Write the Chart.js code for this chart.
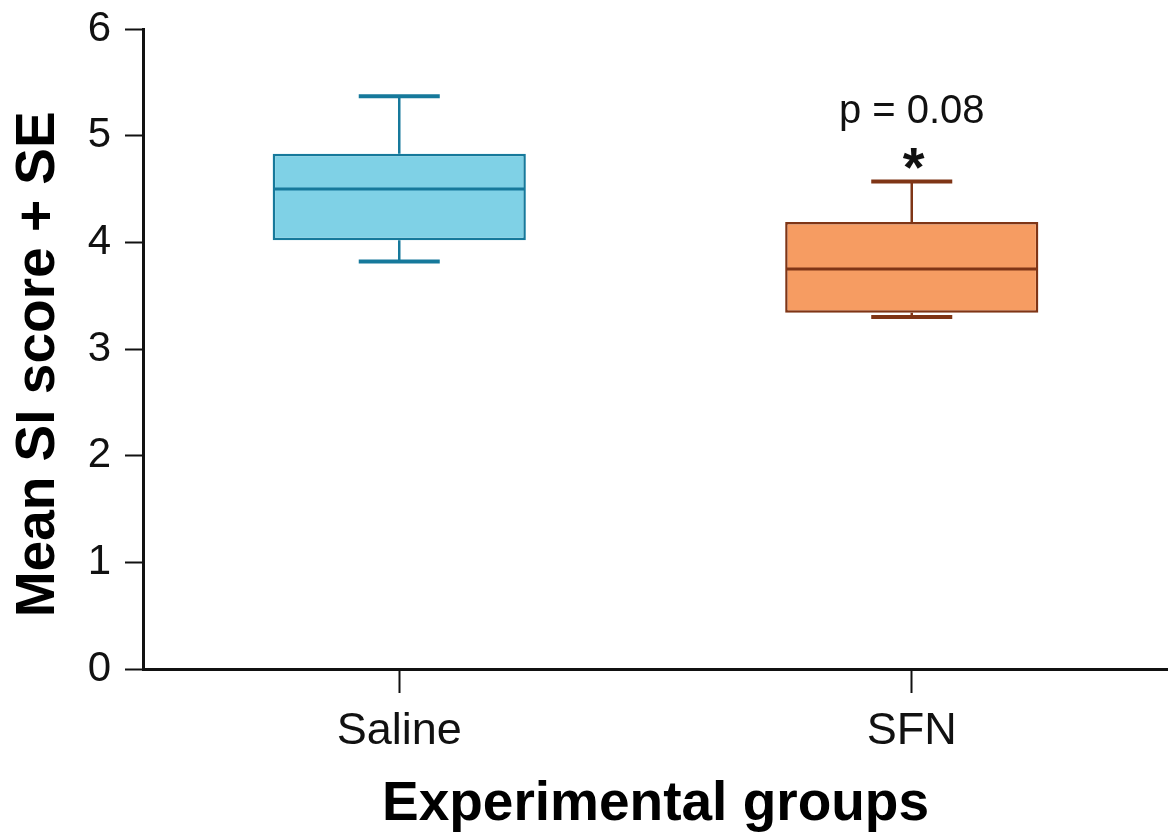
<!DOCTYPE html>
<html>
<head>
<meta charset="utf-8">
<script src="https://cdn.jsdelivr.net/npm/chart.js@4.4.1/dist/chart.umd.min.js"></script>
<style>
  html, body { margin: 0; padding: 0; background: #fff; }
  #wrap { width: 1168px; height: 840px; }
</style>
</head>
<body>
<div id="wrap"><canvas id="box-chart"></canvas></div>
<script>
(function() {
    'use strict';

    // Groups and box statistics
    var groups = ['Saline', 'SFN'];
    var q1 = [4.02, 3.34];
    var q3 = [4.83, 4.19];
    var medians = [4.50, 3.75];
    var whiskerLow = [3.82, 3.30];
    var whiskerHigh = [5.37, 4.57];
    var notes = ['', 'p = 0.08'];
    var stars = ['', '*'];
    var yTicks = [0, 1, 2, 3, 4, 5, 6];

    var fills = ['#7fd1e6', '#f69c62'];
    var strokes = ['#16799b', '#7f3516'];

    var boxes = groups.map(function(g, i) { return [q1[i], q3[i]]; });

    // Draws whiskers, medians and the significance notes on top of the bars
    var boxExtras = {
        id: 'boxExtras',
        afterDatasetsDraw: function(chart) {
            var ctx = chart.ctx;
            var y = chart.scales.y;
            var meta = chart.getDatasetMeta(0);
            meta.data.forEach(function(bar, i) {
                var cx = bar.x;
                var half = bar.width / 2;
                var capHalf = bar.width * 0.16;
                var top = y.getPixelForValue(q3[i]);
                var bottom = y.getPixelForValue(q1[i]);
                var hi = y.getPixelForValue(whiskerHigh[i]);
                var lo = y.getPixelForValue(whiskerLow[i]);
                var med = y.getPixelForValue(medians[i]);

                ctx.save();
                ctx.strokeStyle = strokes[i];
                ctx.lineWidth = 2.5;
                ctx.beginPath();
                ctx.moveTo(cx, top); ctx.lineTo(cx, hi);
                ctx.moveTo(cx, bottom); ctx.lineTo(cx, lo);
                ctx.stroke();

                ctx.lineWidth = 4;
                ctx.beginPath();
                ctx.moveTo(cx - capHalf, hi); ctx.lineTo(cx + capHalf, hi);
                ctx.moveTo(cx - capHalf, lo); ctx.lineTo(cx + capHalf, lo);
                ctx.stroke();

                ctx.lineWidth = 3;
                ctx.beginPath();
                ctx.moveTo(cx - half + 1, med); ctx.lineTo(cx + half - 1, med);
                ctx.stroke();

                ctx.fillStyle = '#111';
                ctx.textAlign = 'center';
                ctx.textBaseline = 'alphabetic';
                if (stars[i]) {
                    ctx.font = 'bold 56px "Liberation Sans", Arial, sans-serif';
                    ctx.fillText(stars[i], cx + 2, hi + 4);
                }
                if (notes[i]) {
                    ctx.font = '40px "Liberation Sans", Arial, sans-serif';
                    ctx.fillText(notes[i], cx, hi - 59);
                }
                ctx.restore();
            });
        }
    };

    var ctx = document.getElementById('box-chart');
    new Chart(ctx, {
        type: 'bar',
        data: {
            labels: groups,
            datasets: [{
                label: 'Mean SI score',
                data: boxes,
                backgroundColor: fills,
                borderColor: strokes,
                borderWidth: 2.5,
                borderSkipped: false,
                barPercentage: 0.494,
                categoryPercentage: 1.0
            }]
        },
        options: {
            responsive: true,
            maintainAspectRatio: false,
            animation: false,
            devicePixelRatio: 1,
            layout: {
                padding: { top: 29, right: 0, bottom: 0, left: 0 }
            },
            plugins: {
                legend: { display: false },
                tooltip: { enabled: false }
            },
            scales: {
                y: {
                    min: 0,
                    max: 6,
                    afterBuildTicks: function(scale) {
                        scale.ticks = yTicks.map(function(v) { return { value: v }; });
                    },
                    afterFit: function(scale) {
                        scale.width = 143;
                        // let the "6" label hang above the plot like the original
                        scale.paddingTop = 0;
                        scale.paddingBottom = 0;
                    },
                    ticks: {
                        color: '#111',
                        padding: 14,
                        font: { family: '"Liberation Sans", Arial, sans-serif', size: 42 }
                    },
                    grid: {
                        drawOnChartArea: false,
                        tickLength: 18,
                        tickWidth: 2,
                        color: '#111'
                    },
                    border: { color: '#111', width: 3 },
                    title: {
                        display: true,
                        // trailing spaces nudge the centred title down a little, as in the original
                        text: 'Mean SI score + SE  ',
                        color: '#000',
                        padding: { top: 6, bottom: 0 },
                        font: { family: '"Liberation Sans", Arial, sans-serif', size: 55, weight: 'bold' }
                    }
                },
                x: {
                    afterFit: function(scale) { scale.height = 171; },
                    ticks: {
                        color: '#111',
                        padding: 12,
                        font: { family: '"Liberation Sans", Arial, sans-serif', size: 45 }
                    },
                    grid: {
                        offset: false,
                        drawOnChartArea: false,
                        tickLength: 24,
                        tickWidth: 2,
                        color: '#111'
                    },
                    border: { color: '#111', width: 3 },
                    title: {
                        display: true,
                        text: 'Experimental groups',
                        color: '#000',
                        padding: { top: 0, bottom: 2 },
                        font: { family: '"Liberation Sans", Arial, sans-serif', size: 55, weight: 'bold' }
                    }
                }
            }
        },
        plugins: [boxExtras]
    });
})();
</script>
</body>
</html>
